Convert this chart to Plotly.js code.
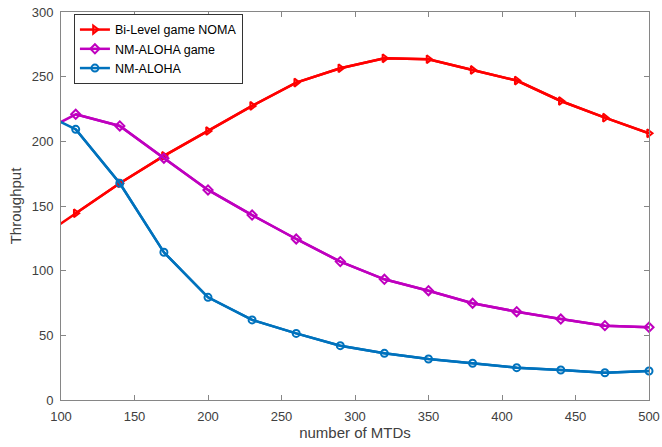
<!DOCTYPE html>
<html>
<head>
<meta charset="utf-8">
<script src="https://cdn.plot.ly/plotly-3.0.1.min.js"></script>
<style>html,body{margin:0;padding:0;background:#fff;}#chart{width:662px;height:447px;}</style>
</head>
<body>
<div id="chart"></div>
<script>
// x values (first point lies left of the visible range; line enters from the axis edge)
const mtds = [80, 110, 140, 170, 200, 230, 260, 290, 320, 350, 380, 410, 440, 470, 500];
const biLevelNoma = [121, 144.4, 167.6, 188.7, 208, 227.4, 245.4, 256.5, 264.2, 263.5, 255.2, 247, 231.2, 218.3, 206.2];
const nmAlohaGame = [203, 220.9, 211.9, 186.9, 162.4, 143, 124.5, 107, 93.3, 84.5, 74.8, 68.3, 62.6, 57.5, 56.2];
const nmAloha = [226, 209.3, 167.6, 114.2, 79.4, 61.9, 51.5, 42, 36.1, 31.7, 28.4, 25, 23.2, 21.1, 22.4];
const seriesNames = ['Bi-Level game NOMA', 'NM-ALOHA game', 'NM-ALOHA'];
const xTicks = [100, 150, 200, 250, 300, 350, 400, 450, 500];
const yTicks = [0, 50, 100, 150, 200, 250, 300];

const colors = ['#FF0000', '#BF00BF', '#0072BD'];
const symbols = ['triangle-right-open', 'diamond-open', 'circle-open'];
const ys = [biLevelNoma, nmAlohaGame, nmAloha];

const traces = [];
ys.forEach((y, i) => {
  // full line (clipped at the axis)
  traces.push({
    x: mtds, y: y, mode: 'lines', showlegend: false, hoverinfo: 'skip',
    line: {color: colors[i], width: 2.5}
  });
  // visible points with markers
  traces.push({
    x: mtds.slice(1), y: y.slice(1), mode: 'lines+markers', name: seriesNames[i],
    cliponaxis: false,
    line: {color: colors[i], width: 2.5},
    marker: {symbol: symbols[i], size: 7, color: colors[i], line: {color: colors[i], width: 2}}
  });
});

const axisCommon = {
  showgrid: false, zeroline: false, showline: true, mirror: 'ticks',
  linecolor: '#868686', linewidth: 1, ticks: 'inside', ticklen: 5, tickcolor: '#868686',
  ticklabelstandoff: 4,
  tickfont: {family: 'Liberation Sans, Arial, sans-serif', size: 13, color: '#404040'}
};

const layout = {
  width: 662, height: 447,
  margin: {l: 61, r: 13, t: 12, b: 47},
  paper_bgcolor: '#fff', plot_bgcolor: '#fff',
  font: {family: 'Liberation Sans, Arial, sans-serif', size: 12, color: '#404040'},
  xaxis: Object.assign({}, axisCommon, {
    range: [100, 500], tickvals: xTicks, ticktext: xTicks.map(String),
    title: {text: 'number of MTDs', font: {size: 15, color: '#404040'}, standoff: 4}
  }),
  yaxis: Object.assign({}, axisCommon, {
    range: [0, 300], tickvals: yTicks, ticktext: yTicks.map(String),
    title: {text: 'Throughput', font: {size: 15, color: '#404040'}, standoff: 6}
  }),
  legend: {
    x: 0.022, y: 0.995, xanchor: 'left', yanchor: 'top',
    bgcolor: '#fff', bordercolor: '#333', borderwidth: 1,
    font: {size: 12.5, color: '#000'}, tracegroupgap: 0, itemwidth: 30
  },
  showlegend: true
};

Plotly.newPlot('chart', traces, layout, {displayModeBar: false, staticPlot: true});
</script>
</body>
</html>
